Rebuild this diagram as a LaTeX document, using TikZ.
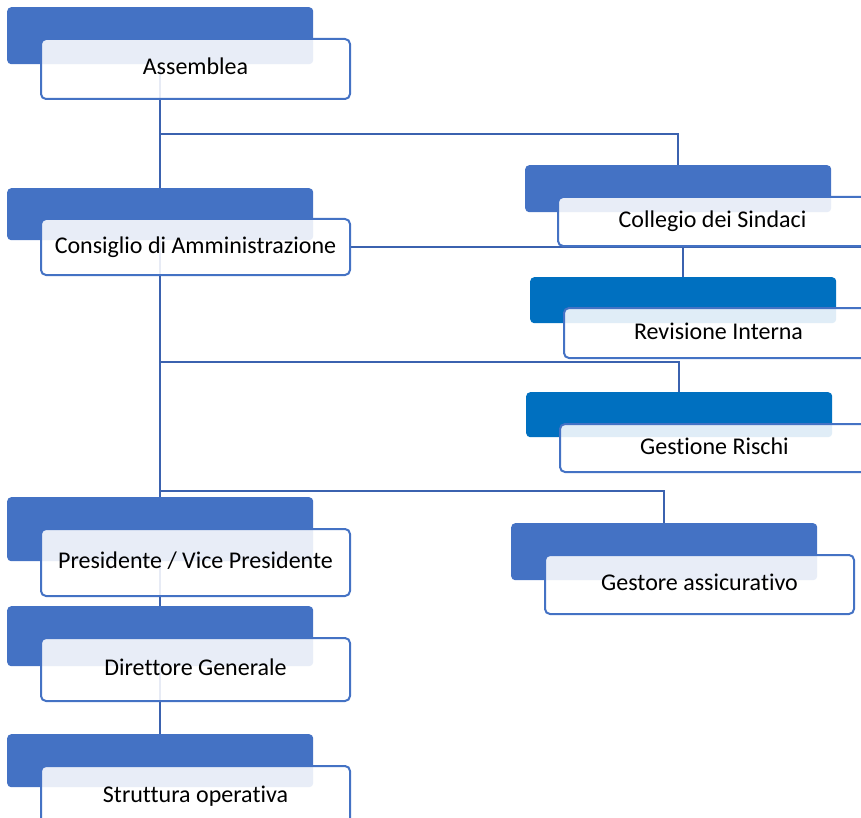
\documentclass[tikz,border=0pt]{standalone}
\usepackage{fontspec}
\setmainfont{Carlito}[Ligatures=NoCommon]
\usetikzlibrary{positioning,backgrounds}
\definecolor{hdblue}{HTML}{4472C4}
\definecolor{hdcyan}{HTML}{0070C0}
\definecolor{lnblue}{HTML}{3B62AF}

\begin{document}
\begin{tikzpicture}[x=1pt,y=-1pt,
		head/.style={fill=hdblue, rounded corners=4pt, minimum width=306pt, anchor=north west, inner sep=0pt},
		card/.style={draw=hdblue, line width=2pt, fill=white, fill opacity=0.88, text opacity=1, rounded corners=5pt,
			minimum width=309pt, inner sep=0pt, font=\fontsize{24}{28}\selectfont, text height=16pt, text depth=4pt},
		link/.style={draw=lnblue, line width=2pt}]
	\useasboundingbox (0,0) rectangle (861,818);
	\clip (0,0) rectangle (861,818);
	\coordinate (bus1) at (0,134);
	\coordinate (bus2) at (0,362);
	\coordinate (bus3) at (0,491);
	\coordinate (rim) at (861,0);
	\node[head, minimum height=57pt] (assemblea-h) at (7,7) {};
	\node[card, minimum height=60pt, below right=31pt and 33pt of assemblea-h.north west] (assemblea) {Assemblea};
	\node[head, minimum height=52pt] (consiglio-h) at (7,188) {};
	\node[card, minimum height=56pt, below right=30pt and 33pt of consiglio-h.north west] (consiglio) {Consiglio di Amministrazione};
	\node[head, minimum height=47pt] (collegio-h) at (525,165) {};
	\node[card, minimum height=49pt, below right=31pt and 32pt of collegio-h.north west] (collegio) {Collegio dei Sindaci};
	\node[head, fill=hdcyan, minimum height=46pt] (revisione-h) at (530,277) {};
	\node[card, minimum height=50pt, below right=30pt and 33pt of revisione-h.north west] (revisione) {Revisione Interna};
	\node[head, fill=hdcyan, minimum height=45pt] (rischi-h) at (526,392) {};
	\node[card, minimum height=48pt, below right=31pt and 33pt of rischi-h.north west] (rischi) {Gestione Rischi};
	\node[head, minimum height=57pt] (gestore-h) at (511,523) {};
	\node[card, minimum height=59pt, below right=31pt and 33pt of gestore-h.north west] (gestore) {Gestore assicurativo};
	\node[head, minimum height=64pt] (presidente-h) at (7,497) {};
	\node[card, minimum height=67pt, below right=31pt and 33pt of presidente-h.north west] (presidente) {Presidente / Vice Presidente};
	\node[head, minimum height=60pt] (direttore-h) at (7,606) {};
	\node[card, minimum height=63pt, below right=31pt and 33pt of direttore-h.north west] (direttore) {Direttore Generale};
	\node[head, minimum height=53pt] (struttura-h) at (7,734) {};
	\node[card, minimum height=60pt, below right=31pt and 33pt of struttura-h.north west] (struttura) {Struttura operativa};
	\begin{pgfonlayer}{background}
		\draw[link] (assemblea-h.center) -- (consiglio-h.center);
		\draw[link] (assemblea-h.center |- bus1) -| (collegio-h.center);
		\draw[link] (consiglio-h.center) -- (struttura-h.center);
		\draw[link] (consiglio.east) -- (consiglio.east -| rim);
		\draw[link] (collegio.south -| revisione-h.center) -- (revisione-h.center);
		\draw[link] (consiglio-h.center |- bus2) -| (rischi-h.center);
		\draw[link] (consiglio-h.center |- bus3) -| (gestore-h.center);
	\end{pgfonlayer}
\end{tikzpicture}
\end{document}
